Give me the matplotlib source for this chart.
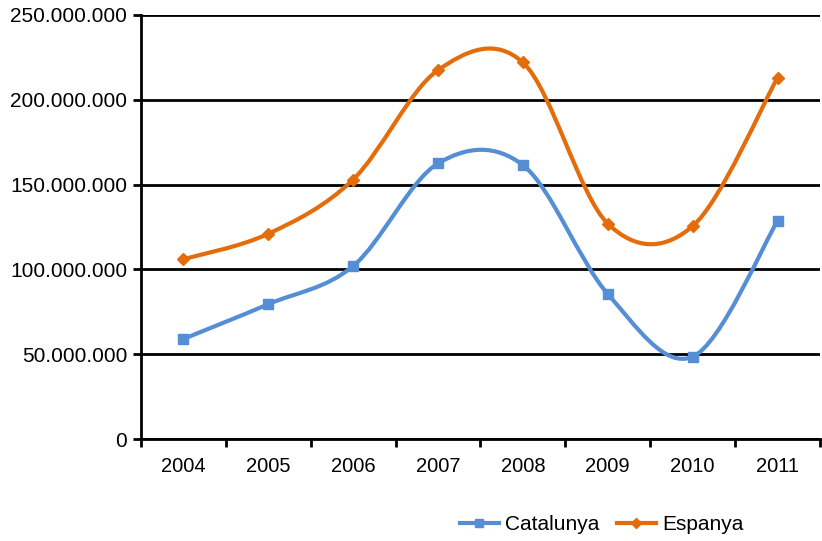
import matplotlib
matplotlib.use('Agg')
import matplotlib.pyplot as plt
from matplotlib.path import Path
from matplotlib.patches import PathPatch
from matplotlib.ticker import FuncFormatter

years = ['2004', '2005', '2006', '2007', '2008', '2009', '2010', '2011']
catalunya = [59e6, 79.5e6, 102e6, 162.5e6, 161.5e6, 85.5e6, 48.5e6, 128.5e6]
espanya = [106e6, 121e6, 153e6, 217.5e6, 222e6, 127e6, 125.5e6, 213e6]

blue = '#558ED5'
orange = '#E46C0A'

plt.rcParams['font.family'] = ['Liberation Sans', 'DejaVu Sans']


def smooth_path(xs, ys):
    # Excel-style bezier smoothing through the data points
    pts = list(zip(xs, ys))
    n = len(pts)
    verts = [pts[0]]
    codes = [Path.MOVETO]
    for i in range(n - 1):
        p0 = pts[max(i - 1, 0)]
        p1 = pts[i]
        p2 = pts[i + 1]
        p3 = pts[min(i + 2, n - 1)]
        c1 = (p1[0] + (p2[0] - p0[0]) / 6, p1[1] + (p2[1] - p0[1]) / 6)
        c2 = (p2[0] - (p3[0] - p1[0]) / 6, p2[1] - (p3[1] - p1[1]) / 6)
        verts += [c1, c2, p2]
        codes += [Path.CURVE4] * 3
    return Path(verts, codes)


fig = plt.figure(figsize=(8.22, 5.41), dpi=100)
ax = fig.add_axes([0.1715, 0.1885, 0.826, 0.7838])

x = list(range(len(years)))
for vals, col, mk, ms, name in [(catalunya, blue, 's', 7, 'Catalunya'),
                                (espanya, orange, 'D', 6, 'Espanya')]:
    ax.add_patch(PathPatch(smooth_path(x, vals), facecolor='none',
                           edgecolor=col, lw=3, zorder=3))
    ax.plot(x, vals, ls='none', marker=mk, ms=ms, color=col, zorder=4)
    ax.plot([], [], color=col, lw=3, marker=mk, ms=ms - 1, label=name)

ax.set_xlim(-0.5, 7.5)
ax.set_ylim(0, 250e6)
ax.set_yticks([0, 50e6, 100e6, 150e6, 200e6, 250e6])
ax.yaxis.set_major_formatter(FuncFormatter(
    lambda v, p: '0' if v == 0 else f'{int(v):,}'.replace(',', '.')))
ax.set_xticks([i - 0.5 for i in range(9)], minor=False)
ax.set_xticklabels([])
ax.set_xticks(x, minor=True)
ax.set_xticklabels(years, minor=True)
ax.tick_params(axis='x', which='minor', length=0, pad=13, labelsize=14.5)
ax.tick_params(axis='x', which='major', length=6, width=2, direction='out')
ax.tick_params(axis='y', length=6, width=2, direction='out', labelsize=15, pad=4)

ax.grid(axis='y', color='black', lw=2)
for s in ['top', 'right']:
    ax.spines[s].set_visible(False)
for s in ['left', 'bottom']:
    ax.spines[s].set_linewidth(2)

fig.legend(loc='lower center', bbox_to_anchor=(0.732, -0.022), ncol=2, frameon=False,
           fontsize=15, handlelength=1.9, columnspacing=0.8, handletextpad=0.3)

fig.savefig('out.png', dpi=100)
